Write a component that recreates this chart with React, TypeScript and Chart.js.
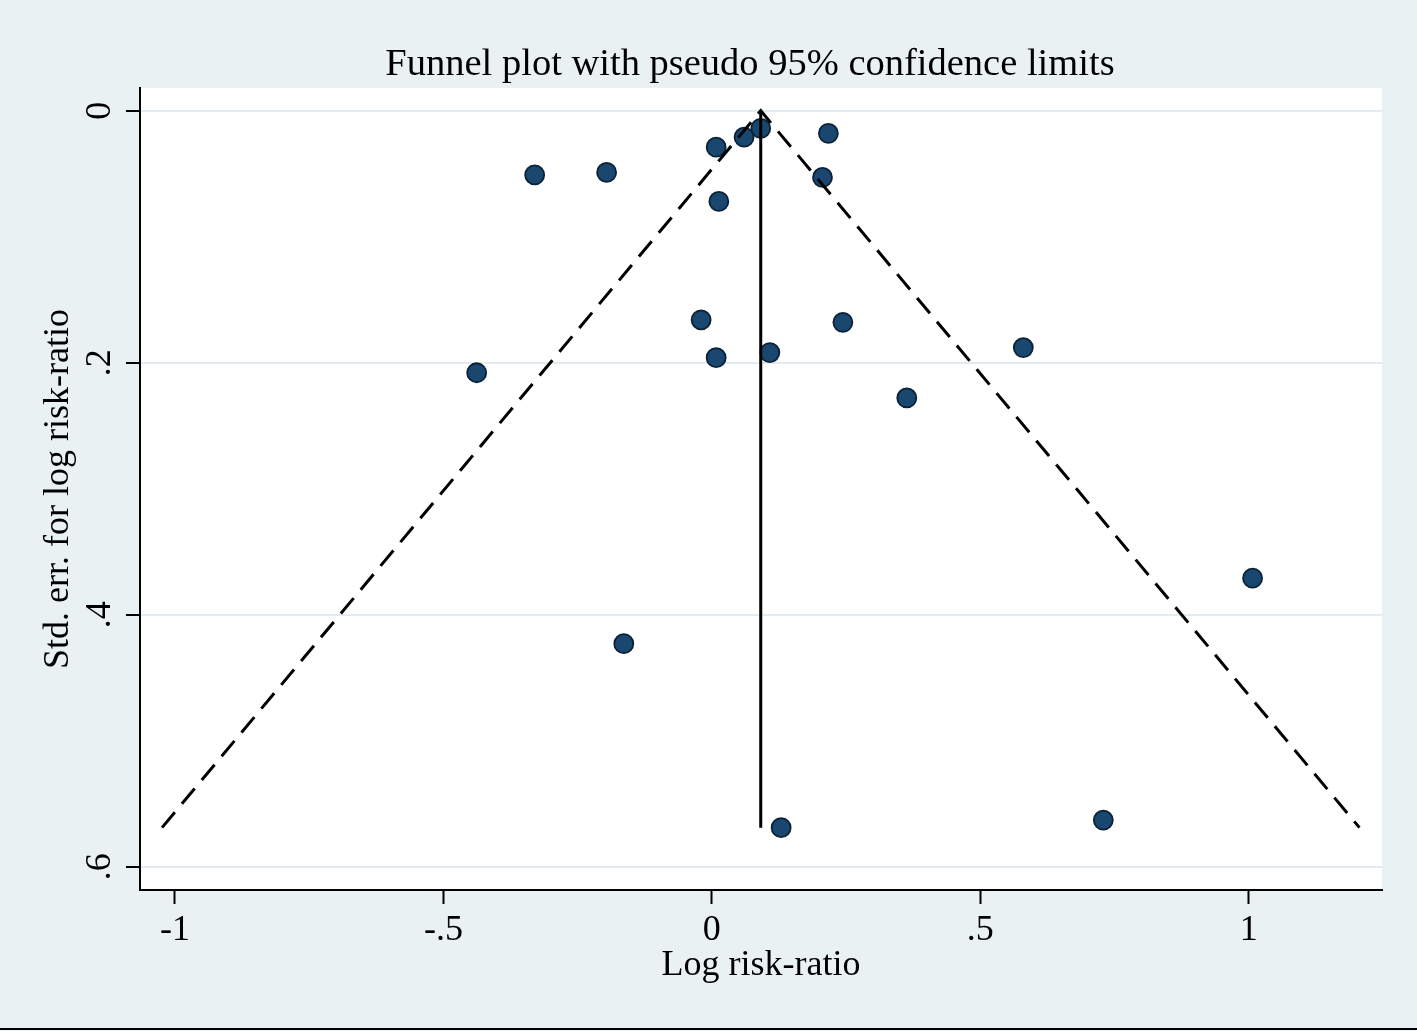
import { useEffect, useRef } from 'react';
import { Chart, registerables } from 'chart.js';

Chart.register(...registerables);

// Study estimates (log risk-ratio) and their standard errors
const studyLogRR = [-0.330, -0.196, 0.008, 0.060, 0.091, 0.217, 0.206, 0.013, -0.020, 0.244, 0.008, 0.108, -0.438, 0.580, 0.363, 1.007, -0.164, 0.129, 0.729];
const studySE = [0.051, 0.049, 0.029, 0.021, 0.014, 0.018, 0.053, 0.072, 0.166, 0.168, 0.196, 0.192, 0.208, 0.188, 0.228, 0.371, 0.423, 0.569, 0.563];

// Pseudo 95% confidence limits (funnel) and pooled estimate line
const funnelX = [-1.024, 0.091, 1.206];
const funnelY = [0.569, 0, 0.569];
const pooledX = [0.091, 0.091];
const pooledY = [0, 0.569];

// Axis ticks
const xTickValues = [-1, -0.5, 0, 0.5, 1];
const xTickLabels = ['-1', '-.5', '0', '.5', '1'];
const yTickValues = [0, 0.2, 0.4, 0.6];
const yTickLabels = ['0', '.2', '.4', '.6'];

const titleText = 'Funnel plot with pseudo 95% confidence limits';
const xTitle = 'Log risk-ratio';
const yTitle = 'Std. err. for log risk-ratio';

const W = 1417;
const H = 1031;
const BG = '#eaf1f3';
const SERIF = "'Liberation Serif', 'Times New Roman', serif";

export default function App() {
  const ref = useRef<HTMLCanvasElement | null>(null);

  useEffect(() => {
    const canvas = ref.current;
    if (!canvas) return;

    const bgPlugin = {
      id: 'stataBg',
      beforeDraw(chart: any) {
        const { ctx, chartArea } = chart;
        ctx.save();
        ctx.fillStyle = BG;
        ctx.fillRect(0, 0, chart.width, chart.height);
        ctx.fillStyle = '#ffffff';
        ctx.fillRect(chartArea.left, chartArea.top, chartArea.right - chartArea.left, chartArea.bottom - chartArea.top);
        ctx.restore();
      },
      afterDraw(chart: any) {
        const { ctx } = chart;
        ctx.save();
        ctx.fillStyle = '#000000';
        ctx.font = `38.5px ${SERIF}`;
        ctx.textAlign = 'center';
        ctx.textBaseline = 'alphabetic';
        ctx.fillText(titleText, 750, 75);
        ctx.fillRect(0, 1028, chart.width, 2);
        ctx.restore();
      },
    };

    const points = studyLogRR.map((x, i) => ({ x, y: studySE[i] }));
    const funnel = funnelX.map((x, i) => ({ x, y: funnelY[i] }));
    const pooled = pooledX.map((x, i) => ({ x, y: pooledY[i] }));

    const chart = new Chart(canvas, {
      type: 'scatter',
      data: {
        datasets: [
          {
            label: 'pooled',
            data: pooled,
            showLine: true,
            borderColor: '#000000',
            borderWidth: 3,
            pointRadius: 0,
            fill: false,
          },
          {
            label: 'limits',
            data: funnel,
            showLine: true,
            borderColor: '#000000',
            borderWidth: 3,
            borderDash: [20, 11],
            pointRadius: 0,
            fill: false,
          },
          {
            label: 'studies',
            data: points,
            showLine: false,
            pointRadius: 9.5,
            pointBackgroundColor: '#1a476f',
            pointBorderColor: '#0b2236',
            pointBorderWidth: 1.8,
          },
        ],
      },
      options: {
        animation: false,
        responsive: false,
        devicePixelRatio: 1,
        layout: { padding: { left: 0, top: 88, right: 35, bottom: 0 } },
        plugins: {
          legend: { display: false },
          tooltip: { enabled: false },
          title: { display: false },
        },
        scales: {
          x: {
            type: 'linear',
            min: -1.065,
            max: 1.248,
            afterFit(scale: any) {
              scale.height = 141;
            },
            afterBuildTicks(scale: any) {
              scale.ticks = xTickValues.map((v) => ({ value: v }));
            },
            ticks: {
              color: '#000000',
              font: { family: SERIF, size: 36 },
              padding: 5,
              maxRotation: 0,
              minRotation: 0,
              autoSkip: false,
              callback: (value: any) => {
                const i = xTickValues.indexOf(Number(value));
                return i >= 0 ? xTickLabels[i] : '';
              },
            },
            grid: {
              drawOnChartArea: false,
              drawTicks: true,
              tickLength: 14,
              tickColor: '#000000',
              tickWidth: 2,
            },
            border: { display: true, color: '#000000', width: 2 },
            title: {
              display: true,
              text: xTitle,
              color: '#000000',
              font: { family: SERIF, size: 36 },
              padding: { top: 0, bottom: 44 },
            },
          },
          y: {
            type: 'linear',
            reverse: true,
            min: -0.018,
            max: 0.6185,
            afterFit(scale: any) {
              scale.width = 140;
            },
            afterBuildTicks(scale: any) {
              scale.ticks = yTickValues.map((v) => ({ value: v }));
            },
            ticks: {
              color: '#000000',
              font: { family: SERIF, size: 36 },
              padding: 12,
              minRotation: 90,
              maxRotation: 90,
              crossAlign: 'center',
              autoSkip: false,
              callback: (value: any) => {
                const i = yTickValues.findIndex((v) => Math.abs(v - Number(value)) < 1e-9);
                return i >= 0 ? yTickLabels[i] : '';
              },
            },
            grid: {
              color: '#e2ecef',
              lineWidth: 2,
              drawOnChartArea: true,
              drawTicks: true,
              tickLength: 14,
              tickColor: '#000000',
              tickWidth: 2,
            },
            border: { display: true, color: '#000000', width: 2 },
            title: {
              display: true,
              text: yTitle,
              color: '#000000',
              font: { family: SERIF, size: 36 },
              padding: { top: 37, bottom: 0 },
            },
          },
        },
      },
      plugins: [bgPlugin],
    } as any);

    return () => {
      chart.destroy();
    };
  }, []);

  return (
    <div style={{ position: 'absolute', left: 0, top: 0, width: W, height: H, background: BG }}>
      <canvas ref={ref} width={W} height={H} style={{ display: 'block', width: W, height: H }} />
    </div>
  );
}
